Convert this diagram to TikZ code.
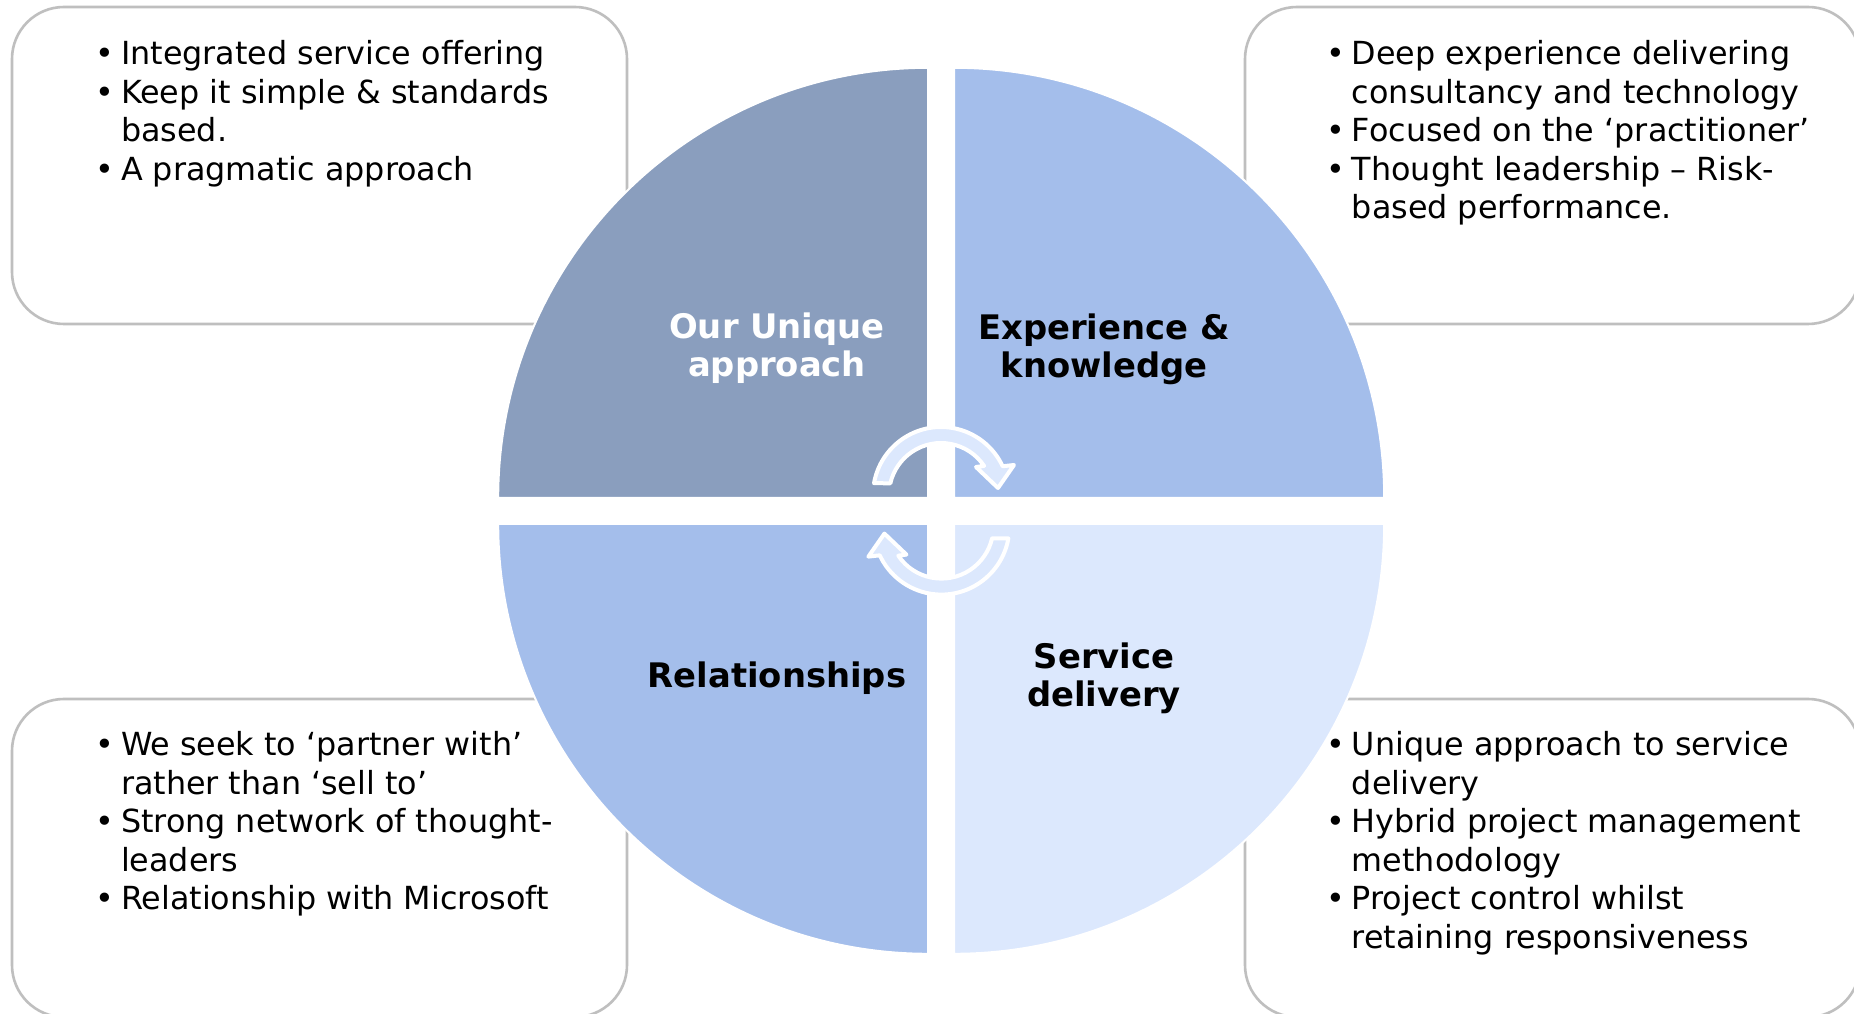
\documentclass[tikz,border=0pt]{standalone}
\usepackage{fontspec}
\setmainfont{DejaVu Sans}
\definecolor{tlq}{HTML}{8A9EBE}
\definecolor{midq}{HTML}{A4BEEB}
\definecolor{brq}{HTML}{DCE8FD}
\definecolor{arrowfill}{HTML}{DCE8FD}
\definecolor{boxgray}{HTML}{BFBFBF}
\newcommand{\bul}{\llap{•\hspace{3.5pt}}}
\begin{document}
\begin{tikzpicture}[x=0.5pt,y=0.5pt,
  infobox/.style={draw=boxgray, line width=1.3pt, rounded corners=26pt},
  quad/.style={draw=white, line width=1pt},
  bultext/.style={anchor=north west, inner sep=0pt, align=left, font=\fontsize{15.9}{19.25}\selectfont},
  title/.style={font=\bfseries\fontsize{16.9}{19}\selectfont, align=center, inner sep=0pt},
  cyc/.style={fill=arrowfill, draw=white, line width=2pt, line join=round}]
\useasboundingbox (0,0) rectangle (1854,1013);
\fill[white] (0,0) rectangle (1854,1013);
% info boxes
\draw[infobox] (12,689) rectangle (627,1006);
\draw[infobox] (1245,689) rectangle (1860,1006);
\draw[infobox] (12,-4) rectangle (627,314);
\draw[infobox] (1245,-4) rectangle (1860,314);
% quadrants
\filldraw[quad, fill=tlq] (928.2,515.2) -- ++(-430,0) arc[start angle=180,end angle=90,radius=430] -- cycle;
\filldraw[quad, fill=midq] (954.2,515.2) -- ++(0,430) arc[start angle=90,end angle=0,radius=430] -- cycle;
\filldraw[quad, fill=midq] (928.2,489.2) -- ++(0,-430) arc[start angle=270,end angle=180,radius=430] -- cycle;
\filldraw[quad, fill=brq] (954.2,489.2) -- ++(430,0) arc[start angle=0,end angle=-90,radius=430] -- cycle;
% cycle arrows
\begin{scope}[shift={(941,518)}]
\path[cyc] (170:68) arc[start angle=170,end angle=25,radius=68] -- (73,30) -- (57,7) -- (35,28) -- (34:52) arc[start angle=34,end angle=167,radius=52] -- cycle;
\end{scope}
\begin{scope}[shift={(941.4,486.4)}, rotate=180]
\path[cyc] (170:68) arc[start angle=170,end angle=25,radius=68] -- (73,30) -- (57,7) -- (35,28) -- (34:52) arc[start angle=34,end angle=167,radius=52] -- cycle;
\end{scope}
% titles
\node[title, text=white] (t1) at (777,664.5) {Our Unique\\approach};
\node[title] (t2) at (1104,663.5) {Experience \&\\knowledge};
\node[title] (t3) at (777,334.5) {Relationships};
\node[title] (t4) at (1104,334.5) {Service\\delivery};
% bullet texts
\node[bultext] (b1) at (120.6,973) {\bul Integrated service offering\\\bul Keep it simple \& standards\\based.\\\bul A pragmatic approach};
\node[bultext] (b2) at (1351.5,973) {\bul Deep experience delivering\\consultancy and technology\\\bul Focused on the ‘practitioner’\\\bul Thought leadership – Risk-\\based performance.};
\node[bultext] (b3) at (120.6,282) {\bul We seek to ‘partner with’\\rather than ‘sell to’\\\bul Strong network of thought-\\leaders\\\bul Relationship with Microsoft};
\node[bultext] (b4) at (1351.5,282) {\bul Unique approach to service\\delivery\\\bul Hybrid project management\\methodology\\\bul Project control whilst\\retaining responsiveness};
\end{tikzpicture}
\end{document}
